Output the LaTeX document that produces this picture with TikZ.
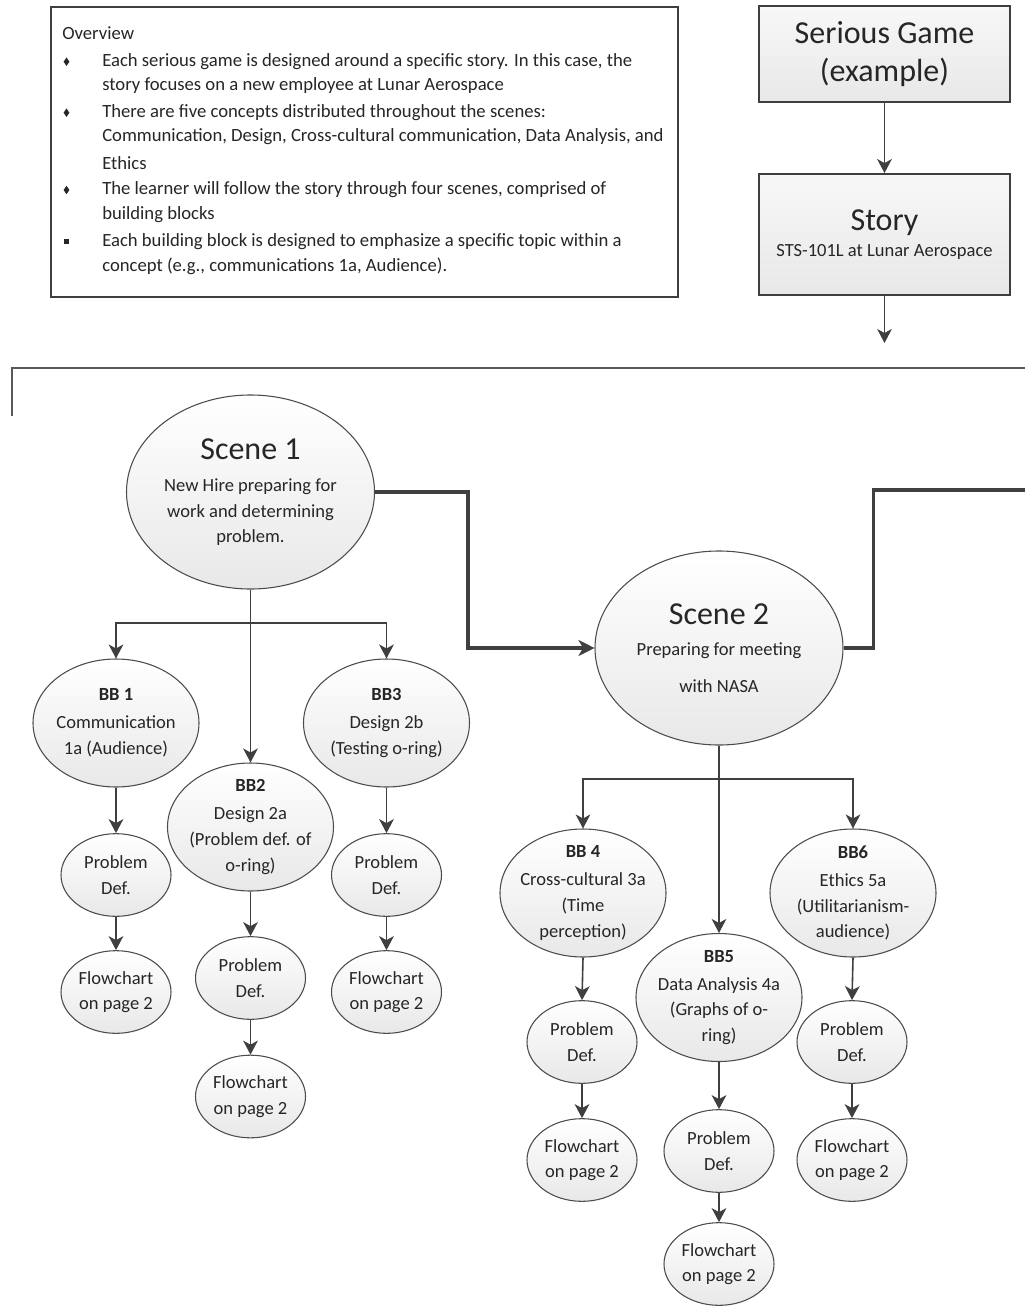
\documentclass[tikz,border=0pt]{standalone}
\usepackage{fontspec}
\setmainfont{Carlito}
\usetikzlibrary{shapes.geometric,arrows.meta}

\definecolor{ink}{HTML}{262626}
\definecolor{edge}{HTML}{3F3F3F}

\begin{document}
\begin{tikzpicture}[x=0.75pt,y=-0.75pt,
  every node/.style={text=ink},
  small/.style={font=\fontsize{13.9}{19.2}\selectfont},
  ovtext/.style={font=\fontsize{14}{19}\selectfont, inner sep=0pt, anchor=west},
  big/.style={font=\fontsize{24}{28.5}\selectfont},
  bubble/.style={ellipse, draw=black!70, line width=0.8pt, top color=white, bottom color=black!9,
    inner xsep=-90pt, inner ysep=-90pt, align=center, small},
  scenebub/.style={bubble, minimum width=186pt, minimum height=145.5pt},
  bbbub/.style={bubble, minimum width=124.5pt, minimum height=96pt},
  stepbub/.style={bubble, minimum width=82.5pt, minimum height=62pt},
  card/.style={rectangle, draw=edge, line width=1.4pt, top color=black!3, bottom color=black!9,
    minimum width=188.25pt, align=center},
  dia/.style={diamond, fill=ink, inner sep=0pt, minimum width=4.5pt, minimum height=6.5pt},
  sq/.style={rectangle, fill=ink, inner sep=0pt, minimum size=4pt},
  link/.style={draw=edge, line width=1.2pt, -{Stealth[length=10.5pt,width=11pt,inset=3pt]}},
  flow/.style={draw=edge, line width=2.6pt},
]
\fill[white] (0,0) rectangle (1025,1306);
\useasboundingbox (0,0) rectangle (1025,1306);

% overview panel
\node[draw=edge, line width=1.4pt, inner sep=0pt, anchor=north west,
  minimum width=470.25pt, minimum height=217.5pt] (overview) at (50,6) {};
\node[ovtext] (ovtitle) at (62,33.3) {Overview};
\node[dia] (bul1) at (66.5,61.7) {};
\node[dia] (bul2) at (66.5,112.7) {};
\node[dia] (bul3) at (66.5,190) {};
\node[sq]  (bul4) at (66.5,241.7) {};
\node[ovtext] (ov1) at (102,61.7) {Each serious game is designed around a specific story. In this case, the};
\node[ovtext] (ov2) at (102,86) {story focuses on a new employee at Lunar Aerospace};
\node[ovtext] (ov3) at (102,112.7) {There are five concepts distributed throughout the scenes:};
\node[ovtext] (ov4) at (102,136.7) {Communication, Design, Cross-cultural communication, Data Analysis, and};
\node[ovtext] (ov5) at (102,163.3) {Ethics};
\node[ovtext] (ov6) at (102,190) {The learner will follow the story through four scenes, comprised of};
\node[ovtext] (ov7) at (102,215) {building blocks};
\node[ovtext] (ov8) at (102,241.7) {Each building block is designed to emphasize a specific topic within a};
\node[ovtext] (ov9) at (102,266.7) {concept (e.g., communications 1a, Audience).};

% game and story cards
\node[card, big, minimum height=72pt] (sg) at (884.5,54) {Serious Game\\(example)};
\node[card, small, minimum height=90.75pt] (story) at (884.5,234.5)
  {{\fontsize{24}{24}\selectfont Story}\\STS-101L at Lunar Aerospace};
\coordinate (storyend) at (884.5,343);
\draw[link] (sg) -- (story);
\draw[link] (story) -- (storyend);

% scene frame
\coordinate (frameR) at (1025,368);
\coordinate (frameL) at (12,368);
\coordinate (frameB) at (12,416);
\draw[draw=black!65, line width=1.5pt] (frameR) -- (frameL) -- (frameB);

% scenes
\node[scenebub] (s1) at (250.5,492)
  {{\fontsize{24}{24}\selectfont Scene 1}\\[5pt]New Hire preparing for\\work and determining\\problem.};
\node[scenebub] (s2) at (719,648)
  {{\fontsize{24}{24}\selectfont Scene 2}\\[3.7pt]Preparing for meeting\\[8.5pt]with NASA};

\coordinate (exit) at (1025,490);
\draw[flow, -{Stealth[length=12pt,width=12pt,inset=3.5pt]}] (s1.east) -- ++(93,0) |- (s2.west);
\draw[flow] (s2.east) -- ++(30,0) |- (exit);

% building blocks
\node[bbbub] (bb1) at (116,723) {\textbf{BB 1}\\[1.8pt]Communication\\1a (Audience)};
\node[bbbub] (bb2) at (250.5,827) {\textbf{BB2}\\[1.8pt]Design 2a\\(Problem def. of\\o-ring)};
\node[bbbub] (bb3) at (386.5,723) {\textbf{BB3}\\[1.8pt]Design 2b\\(Testing o-ring)};
\node[bbbub] (bb4) at (583,893) {\textbf{BB 4}\\[1.8pt]Cross-cultural 3a\\(Time\\perception)};
\node[bbbub] (bb5) at (719,997.5) {\textbf{BB5}\\[1.8pt]Data Analysis 4a\\(Graphs of o-\\ring)};
\node[bbbub] (bb6) at (853,893) {\textbf{BB6}\\[1.8pt]Ethics 5a\\(Utilitarianism-\\audience)};

% problem definition and flowchart steps
\node[stepbub] (p1) at (116,875) {Problem\\Def.};
\node[stepbub] (f1) at (116,992) {Flowchart\\on page 2};
\node[stepbub] (p2) at (250.5,978) {Problem\\Def.};
\node[stepbub] (f2) at (250.5,1096.5) {Flowchart\\on page 2};
\node[stepbub] (p3) at (386.5,875) {Problem\\Def.};
\node[stepbub] (f3) at (386.5,992) {Flowchart\\on page 2};
\node[stepbub] (p4) at (582,1042) {Problem\\Def.};
\node[stepbub] (f4) at (582,1160) {Flowchart\\on page 2};
\node[stepbub] (p5) at (719,1151) {Problem\\Def.};
\node[stepbub] (f5) at (719,1264) {Flowchart\\on page 2};
\node[stepbub] (p6) at (852,1042) {Problem\\Def.};
\node[stepbub] (f6) at (852,1160) {Flowchart\\on page 2};

% scene 1 branches
\coordinate (j1) at (250.5,623);
\draw[link] (s1.south) -- (bb2.north);
\draw[link] (j1) -| (bb1.north);
\draw[link] (j1) -| (bb3.north);

% scene 2 branches
\coordinate (j2) at (719,779);
\draw[link] (s2.south) -- (bb5.north);
\draw[link] (j2) -| (bb4.north);
\draw[link] (j2) -| (bb6.north);

% chains below each block
\foreach \a/\b in {bb1/p1,p1/f1,bb2/p2,p2/f2,bb3/p3,p3/f3,bb4/p4,p4/f4,bb5/p5,p5/f5,bb6/p6,p6/f6}
  \draw[link] (\a.south) -- (\b.north);
\end{tikzpicture}
\end{document}
